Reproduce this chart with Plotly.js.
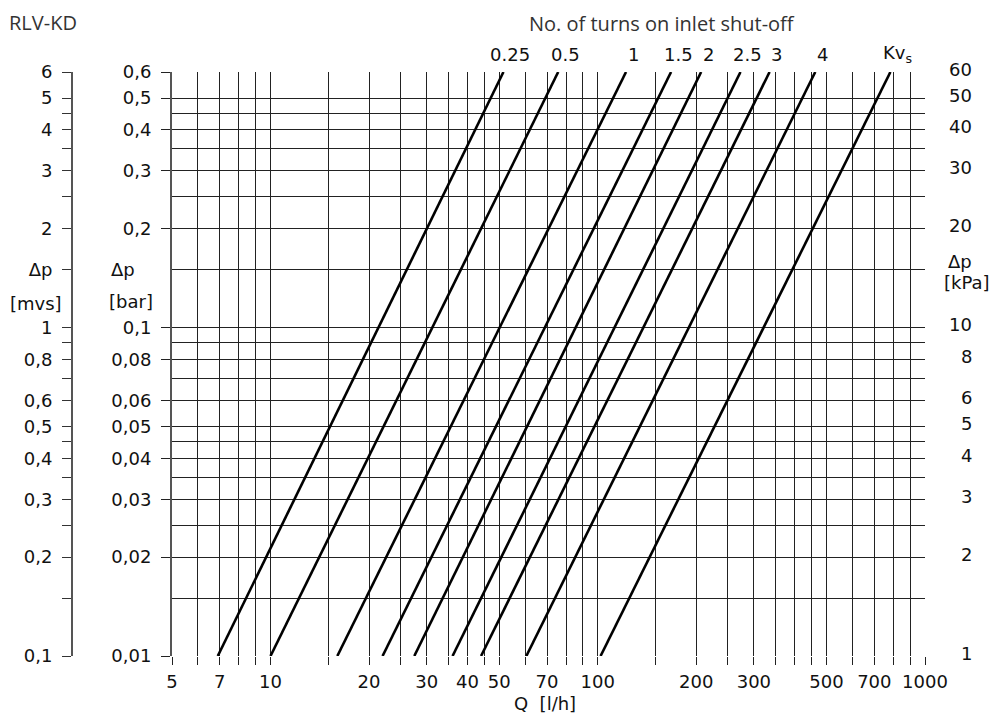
<!DOCTYPE html>
<html>
<head>
<meta charset="utf-8">
<script src="https://cdn.plot.ly/plotly-3.0.1.min.js"></script>
<style>
  html, body { margin: 0; padding: 0; background: #fff; }
  #chart { width: 993px; height: 716px; }
</style>
</head>
<body>
<div id="chart"></div>
<script>
// ---------------- data ----------------
const turns   = ['0.25', '0.5', '1', '1.5', '2', '2.5', '3', '4', 'Kv<sub>s</sub>'];
const qAtMin  = [6.9, 10, 16, 22, 27.5, 36, 44, 60.5, 102];      // Q [l/h] at Δp = 0.01 bar
const qAtMax  = [51.5, 75.7, 122, 167.5, 207, 273, 335, 462, 784]; // Q [l/h] at Δp = 0.6 bar
const dpEnds  = [0.01, 0.6];                                       // Δp [bar]

const qGrid   = [5,6,7,8,9,10,15,20,25,30,35,40,45,50,60,70,80,90,100,150,200,250,300,350,400,450,500,600,700,800,900,1000];
const qLabels = [5,7,10,20,30,40,50,70,100,200,300,500,700,1000];

const dpGrid  = [0.01,0.015,0.02,0.025,0.03,0.035,0.04,0.045,0.05,0.06,0.07,0.08,0.09,0.1,0.15,0.2,0.25,0.3,0.35,0.4,0.45,0.5,0.6];
const barTicks = [0.01,0.02,0.03,0.04,0.05,0.06,0.08,0.1,0.2,0.3,0.4,0.5,0.6];
const barText  = ['0,01','0,02','0,03','0,04','0,05','0,06','0,08','0,1','0,2','0,3','0,4','0,5','0,6'];

const mvsTicks = [0.1,0.15,0.2,0.25,0.3,0.35,0.4,0.45,0.5,0.6,0.7,0.8,0.9,1,1.5,2,2.5,3,3.5,4,4.5,5,6];
const mvsText  = ['0,1','','0,2','','0,3','','0,4','','0,5','0,6','','0,8','','1','Δp','2','','3','','4','','5','6'];

const kpaVals  = [60,50,40,30,20,10,8,6,5,4,3,2,1];

// ---------------- geometry ----------------
const W = 993, H = 716;
const PL = 172, PR = 925, PT = 72, PB = 656;
const px = v => v / W;
const py = v => (PB - v) / (PB - PT);

const TXT = { family: 'DejaVu Sans', size: 18, color: '#111' };

// ---------------- traces ----------------
const traces = turns.map((t, i) => ({
  x: [qAtMin[i], qAtMax[i]],
  y: dpEnds,
  type: 'scatter',
  mode: 'lines',
  line: { color: '#000', width: 2.6 },
  hoverinfo: 'skip',
  showlegend: false,
  cliponaxis: true
}));
traces.push({ x: [10], y: [0.1], yaxis: 'y2', mode: 'markers', marker: { opacity: 0 }, hoverinfo: 'skip', showlegend: false });
traces.push({ x: [10], y: [1], yaxis: 'y3', mode: 'markers', marker: { opacity: 0 }, hoverinfo: 'skip', showlegend: false });

// ---------------- annotations ----------------
const ann = [];
ann.push({ text: 'RLV-KD', xref: 'paper', yref: 'paper', x: px(7), y: py(7), xanchor: 'left', yanchor: 'top',
  showarrow: false, font: { family: 'Open Sans', size: 20, color: '#333' } });
ann.push({ text: 'No. of turns on inlet shut-off', xref: 'paper', yref: 'paper', x: px(662), y: py(8), xanchor: 'center', yanchor: 'top',
  showarrow: false, font: { family: 'Open Sans', size: 20, color: '#333' } });

turns.forEach((t, i) => {
  ann.push({ text: t, xref: 'x', yref: 'paper', x: Math.log10(qAtMax[i]), y: 1, yshift: 18, xshift: 7,
    xanchor: 'center', yanchor: 'middle', showarrow: false, font: TXT });
});

// left labels
ann.push({ text: 'Δp', xref: 'paper', yref: 'y', x: px(123), y: Math.log10(0.15), xanchor: 'center', yanchor: 'middle', showarrow: false, font: TXT });
ann.push({ text: '[bar]', xref: 'paper', yref: 'paper', x: px(131), y: py(301), xanchor: 'center', yanchor: 'middle', showarrow: false, font: TXT });
ann.push({ text: '[mvs]', xref: 'paper', yref: 'paper', x: px(36), y: py(303), xanchor: 'center', yanchor: 'middle', showarrow: false, font: TXT });

// right kPa labels
kpaVals.forEach(v => {
  ann.push({ text: String(v), xref: 'paper', yref: 'y', x: px(974), y: Math.log10(v / 100), yshift: 3,
    xanchor: 'right', yanchor: 'middle', showarrow: false, font: TXT });
});
ann.push({ text: 'Δp', xref: 'paper', yref: 'paper', x: px(974), y: py(261), xanchor: 'right', yanchor: 'middle', showarrow: false, font: TXT });
ann.push({ text: '[kPa]', xref: 'paper', yref: 'paper', x: px(967), y: py(282), xanchor: 'center', yanchor: 'middle', showarrow: false, font: TXT });

// x title
ann.push({ text: 'Q  [l/h]', xref: 'paper', yref: 'paper', x: px(545), y: py(716), xanchor: 'center', yanchor: 'bottom', showarrow: false, font: TXT });

// ---------------- layout ----------------
const layout = {
  width: W, height: H,
  margin: { l: 0, r: 0, t: PT, b: H - PB, pad: 0 },
  paper_bgcolor: '#fff', plot_bgcolor: '#fff',
  showlegend: false,
  font: TXT,
  xaxis: {
    type: 'log', domain: [px(PL), px(PR)],
    range: [Math.log10(5), Math.log10(1000)],
    tickmode: 'array', tickvals: qGrid,
    ticktext: qGrid.map(v => qLabels.includes(v) ? String(v) : ''),
    ticks: 'outside', ticklen: 8, tickwidth: 1, tickcolor: '#222',
    tickangle: 0, ticklabelstandoff: 1,
    showgrid: true, gridcolor: '#222', gridwidth: 1,
    zeroline: false, showline: false, tickfont: TXT, fixedrange: true
  },
  yaxis: {
    type: 'log', anchor: 'x', side: 'left',
    range: [Math.log10(0.01), Math.log10(0.6)],
    tickmode: 'array', tickvals: barTicks, ticktext: barText,
    ticks: 'outside', ticklen: 9, tickwidth: 1, tickcolor: '#222',
    ticklabelstandoff: 6,
    showgrid: false, showline: true, linecolor: '#555', linewidth: 2,
    zeroline: false, tickfont: TXT, fixedrange: true
  },
  yaxis2: {
    type: 'log', overlaying: 'y', anchor: 'x', side: 'right',
    range: [Math.log10(0.01), Math.log10(0.6)],
    tickmode: 'array', tickvals: dpGrid,
    showticklabels: false, ticks: '',
    showgrid: true, gridcolor: '#222', gridwidth: 1,
    showline: false, zeroline: false, fixedrange: true
  },
  yaxis3: {
    type: 'log', overlaying: 'y', anchor: 'free', position: px(72), side: 'left',
    range: [Math.log10(0.1), Math.log10(6)],
    tickmode: 'array', tickvals: mvsTicks, ticktext: mvsText,
    ticks: 'outside', ticklen: 9, tickwidth: 1, tickcolor: '#333',
    ticklabelstandoff: 6,
    showgrid: false, showline: true, linecolor: '#555', linewidth: 2,
    zeroline: false, tickfont: TXT, fixedrange: true
  },
  annotations: ann
};

Plotly.newPlot('chart', traces, layout, { staticPlot: true, displayModeBar: false });
</script>
</body>
</html>
